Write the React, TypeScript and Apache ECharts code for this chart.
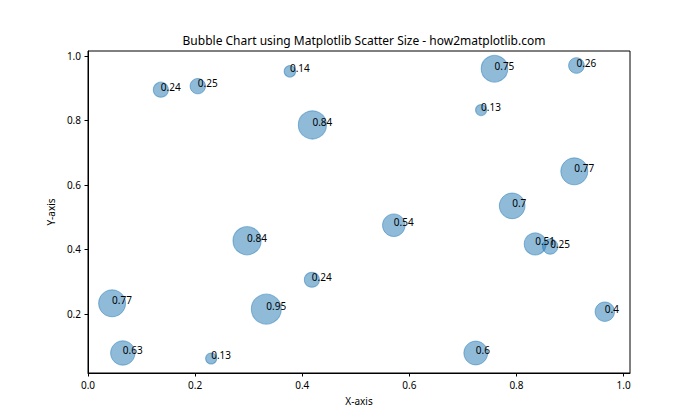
import React, { useEffect, useRef } from "react";
import * as echarts from "echarts";

const xValues = [0.136, 0.205, 0.377, 0.419, 0.759, 0.912, 0.734, 0.908, 0.792, 0.297, 0.418, 0.045, 0.333, 0.065, 0.230, 0.571, 0.835, 0.863, 0.965, 0.724];
const yValues = [0.895, 0.906, 0.952, 0.786, 0.960, 0.970, 0.832, 0.642, 0.535, 0.427, 0.306, 0.233, 0.215, 0.079, 0.062, 0.475, 0.417, 0.409, 0.207, 0.079];
const sizes = [0.24, 0.25, 0.14, 0.84, 0.75, 0.26, 0.13, 0.77, 0.7, 0.84, 0.24, 0.77, 0.95, 0.63, 0.13, 0.54, 0.51, 0.25, 0.4, 0.6];
const xTicks = [0, 0.2, 0.4, 0.6, 0.8, 1.0];
const yTicks = [0.2, 0.4, 0.6, 0.8, 1.0];

const FONT = "Noto Sans";

export default function App() {
  const ref = useRef<HTMLDivElement>(null);
  useEffect(() => {
    if (!ref.current) return;
    const chart = echarts.init(ref.current, null, { renderer: "svg" });
    const data = xValues.map((x, i) => [x, yValues[i], sizes[i]]);
    chart.setOption({
      animation: false,
      backgroundColor: "#ffffff",
      textStyle: { fontFamily: FONT },
      title: {
        text: "Bubble Chart using Matplotlib Scatter Size - how2matplotlib.com",
        left: 359,
        top: 29,
        textAlign: "center",
        textStyle: { fontFamily: FONT, fontSize: 12, fontWeight: "normal", color: "#000" },
      },
      grid: {
        left: 88,
        top: 51,
        width: 542,
        height: 322,
        show: true,
        borderColor: "#000",
        borderWidth: 1,
        backgroundColor: "transparent",
      },
      xAxis: {
        type: "value",
        min: 0,
        max: 1.012,
        name: "X-axis",
        nameLocation: "middle",
        nameGap: 23,
        nameTextStyle: { fontFamily: FONT, fontSize: 10, color: "#000" },
        splitLine: { show: false },
        axisLine: { show: true, onZero: false, lineStyle: { color: "#000", width: 1 } },
        axisTick: { show: true, length: 3.5, customValues: xTicks, lineStyle: { color: "#000" } },
        axisLabel: {
          customValues: xTicks,
          margin: 7,
          fontFamily: FONT,
          fontSize: 10,
          color: "#000",
          formatter: (v: number) => v.toFixed(1),
        },
      },
      yAxis: {
        type: "value",
        min: 0.017,
        max: 1.015,
        name: "Y-axis",
        nameLocation: "middle",
        nameGap: 28,
        nameTextStyle: { fontFamily: FONT, fontSize: 10, color: "#000" },
        splitLine: { show: false },
        axisLine: { show: true, onZero: false, lineStyle: { color: "#000", width: 1 } },
        axisTick: { show: true, length: 3.5, customValues: yTicks, lineStyle: { color: "#000" } },
        axisLabel: {
          customValues: yTicks,
          margin: 7,
          fontFamily: FONT,
          fontSize: 10,
          color: "#000",
          formatter: (v: number) => v.toFixed(1),
        },
      },
      series: [
        {
          type: "scatter",
          data,
          symbolSize: (val: number[]) => (Math.sqrt(val[2] * 1000) * 70) / 72,
          itemStyle: {
            color: "rgba(31,119,180,0.5)",
            borderColor: "rgba(31,119,180,0.5)",
            borderWidth: 1,
            opacity: 1,
          },
          label: {
            show: true,
            position: "inside",
            align: "left",
            verticalAlign: "bottom",
            offset: [0, 2],
            fontFamily: FONT,
            fontSize: 10,
            color: "#000",
            textBorderWidth: 0,
            textShadowBlur: 0,
            formatter: (p: any) => String(p.value[2]),
          },
          emphasis: { disabled: true },
        },
      ],
    });
    return () => chart.dispose();
  }, []);
  return (
    <div
      ref={ref}
      style={{ position: "absolute", left: 0, top: 0, width: 700, height: 420 }}
    />
  );
}
